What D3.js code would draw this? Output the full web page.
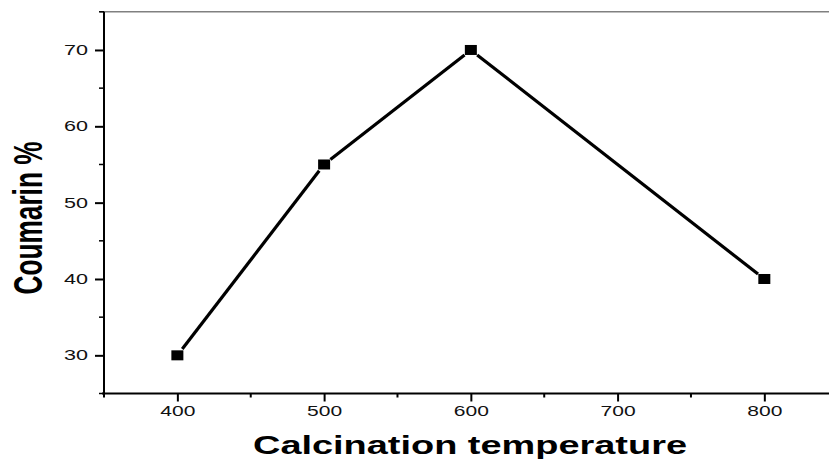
<!DOCTYPE html>
<html>
<head>
<meta charset="utf-8">
<script src="https://cdn.jsdelivr.net/npm/d3@7"></script>
<style>
  html, body { margin: 0; padding: 0; background: #fff; overflow: hidden; }
  svg { display: block; font-family: "Liberation Sans", Arial, sans-serif; }
</style>
</head>
<body>
<svg id="chart" width="829" height="459"></svg>
<script>
// ---- data ----
const temperatures = [400, 500, 600, 800];
const coumarin = [30, 55, 70, 40];
const xMajorTicks = [400, 500, 600, 700, 800];
const xMinorTicks = [350, 450, 550, 650, 750, 850];
const yMajorTicks = [30, 40, 50, 60, 70];
const yMinorTicks = [25, 35, 45, 55, 65, 75];
const xTitle = "Calcination temperature";
const yTitle = "Coumarin %";

const svg = d3.select("#chart");
const W = 829, H = 459;
const pL = 104, pR = 837.7, pT = 11.8, pB = 393.5;
const x = d3.scaleLinear().domain([350, 850]).range([pL, pR]);
const y = d3.scaleLinear().domain([25, 75]).range([pB, pT]);
const stretch = 1.55;

// top frame line (grey)
svg.append("line")
  .attr("x1", pL - 4).attr("x2", W)
  .attr("y1", pT).attr("y2", pT)
  .attr("stroke", "#808080").attr("stroke-width", 1.5);

// x axis
const xAxis = svg.append("g").attr("transform", `translate(0,${pB})`);
xAxis.call(d3.axisBottom(x).tickValues(xMajorTicks).tickSize(8).tickSizeOuter(0).tickPadding(4));
xAxis.append("g").selectAll("line").data(xMinorTicks).join("line")
  .attr("x1", d => x(d)).attr("x2", d => x(d)).attr("y1", 0).attr("y2", 4)
  .attr("stroke", "#000").attr("stroke-width", 2);
xAxis.select(".domain").attr("stroke-width", 2).attr("d", `M${pL - 2},0H${W}`);
xAxis.selectAll(".tick line").attr("stroke-width", 2);
xAxis.selectAll(".tick text")
  .attr("font-size", 15).attr("fill", "#111")
  .attr("font-family", "Liberation Sans, Arial, sans-serif")
  .each(function(d){ const s = String(d); d3.select(this).attr("textLength", s.length * 11.7).attr("lengthAdjust", "spacingAndGlyphs"); });

// y axis
const yAxis = svg.append("g").attr("transform", `translate(${pL},0)`);
yAxis.call(d3.axisLeft(y).tickValues(yMajorTicks).tickSize(9).tickSizeOuter(0).tickPadding(7));
yAxis.append("g").selectAll("line").data(yMinorTicks).join("line")
  .attr("x1", 0).attr("x2", -5).attr("y1", d => y(d)).attr("y2", d => y(d))
  .attr("stroke", "#000").attr("stroke-width", 1.5);
yAxis.select(".domain").attr("stroke-width", 2).attr("d", `M0,${pT}V${pB + 1}`);
yAxis.selectAll(".tick line").attr("stroke-width", 2);
yAxis.selectAll(".tick text")
  .attr("font-size", 14.5).attr("fill", "#111")
  .attr("font-family", "Liberation Sans, Arial, sans-serif")
  .each(function(d){ const s = String(d); d3.select(this).attr("textLength", s.length * 12).attr("lengthAdjust", "spacingAndGlyphs"); });

// data line segments (with small gaps around symbols)
const pts = temperatures.map((t, i) => [x(t), y(coumarin[i])]);
const gap = 8;
const segs = d3.pairs(pts).map(([a, b]) => {
  const dx = b[0] - a[0], dy = b[1] - a[1], L = Math.hypot(dx, dy);
  const ux = dx / L, uy = dy / L;
  return [a[0] + ux * gap, a[1] + uy * gap, b[0] - ux * gap, b[1] - uy * gap];
});
svg.append("g").selectAll("line").data(segs).join("line")
  .attr("x1", d => d[0]).attr("y1", d => d[1]).attr("x2", d => d[2]).attr("y2", d => d[3])
  .attr("stroke", "#000").attr("stroke-width", 3.2).attr("stroke-linecap", "butt");

// square markers
svg.append("g").selectAll("rect").data(temperatures.map((t, i) => ({t, v: coumarin[i]}))).join("rect")
  .attr("x", d => x(d.t) - 6).attr("y", d => y(d.v) - 5)
  .attr("width", 12).attr("height", 10).attr("fill", "#000");

// axis titles
svg.append("text")
  .attr("x", 470).attr("y", 454)
  .attr("text-anchor", "middle")
  .attr("font-size", 25).attr("font-weight", "bold")
  .attr("textLength", 434).attr("lengthAdjust", "spacingAndGlyphs")
  .text(xTitle);

svg.append("text")
  .attr("transform", `translate(42,218) scale(${stretch},1) rotate(-90)`)
  .attr("text-anchor", "middle")
  .attr("font-size", 26).attr("font-weight", "bold")
  .attr("textLength", 153).attr("lengthAdjust", "spacingAndGlyphs")
  .text(yTitle);
</script>
</body>
</html>
